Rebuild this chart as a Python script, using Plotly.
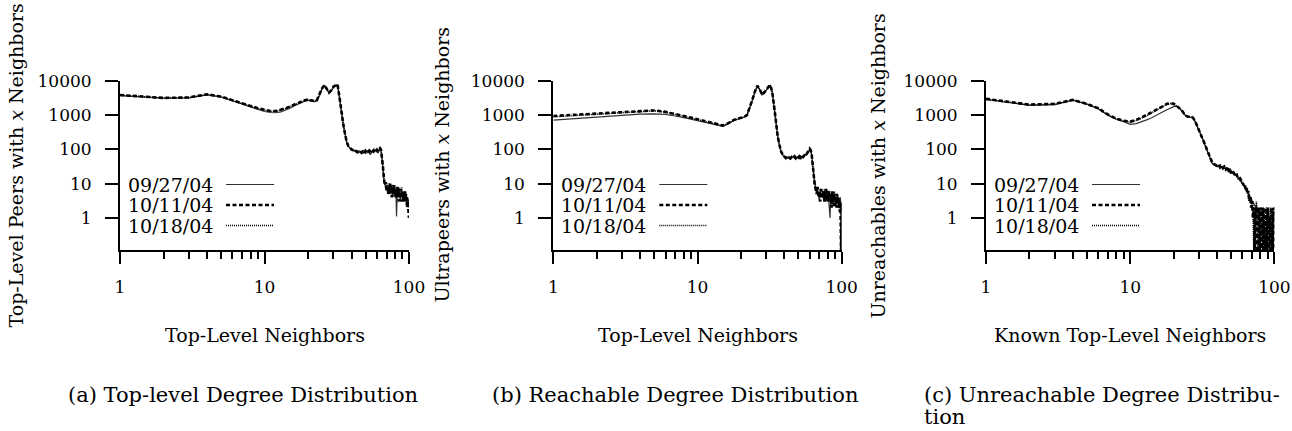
import plotly.graph_objects as go

# ---------------- data ----------------
degrees = list(range(1, 101))
dates = ["09/27/04", "10/11/04", "10/18/04"]

x_tickvals = [1, 10, 100]
x_ticktext = ["1", "10", "100"]
x_minorvals = [2, 3, 4, 5, 6, 7, 8, 9, 20, 30, 40, 50, 60, 70, 80, 90]
y_tickvals = [1, 10, 100, 1000, 10000]
y_ticktext = ["1", "10", "100", "1000", "10000"]

# (a) Top-level peers
top_0927 = [3750, 3150, 3200, 3950, 3400, 2700, 2150, 1750, 1450, 1280,
            1200, 1180, 1250, 1400, 1600, 1850, 2100, 2350, 2550, 2700,
            2650, 2500, 2600, 3700, 5900, 7300, 5600, 4500, 5200, 6500,
            7200, 7700, 3300, 1100, 560, 290, 165, 125, 108, 98,
            92, 88, 86, 90, 83, 80, 86, 82, 88, 77,
            84, 90, 79, 70, 85, 92, 80, 88, 95, 84,
            92, 100, 104, 94, 60, 30, 14, 10, 7, 9,
            6, 8, 10, 5, 7, 9, 4, 6, 8, 5,
            7, 1.1, 6, 4, 8, 5, 3, 6, 7, 4,
            5, 3, 6, 4, 5, 3, 4, 2.5, 3.5, 2.5]
top_1011 = [3900, 3200, 3300, 4100, 3500, 2800, 2250, 1870, 1600, 1420,
            1330, 1330, 1450, 1600, 1800, 2050, 2300, 2550, 2750, 2900,
            2750, 2600, 2700, 3900, 6100, 7600, 5700, 4600, 5400, 6800,
            7400, 8000, 3500, 1150, 580, 300, 170, 128, 110, 100,
            95, 85, 90, 82, 88, 92, 80, 87, 76, 90,
            80, 86, 93, 84, 78, 88, 95, 82, 90, 98,
            88, 96, 108, 98, 65, 32, 15, 9, 11, 6,
            8, 5, 7, 10, 6, 4, 8, 9, 5, 7,
            4, 6, 8, 5, 3, 7, 6, 4, 3, 6,
            4, 5, 3, 6, 3, 4, 2, 3, 1.5, 1.0]
top_1018 = [3850, 3180, 3280, 4050, 3450, 2750, 2200, 1830, 1560, 1380,
            1300, 1300, 1420, 1570, 1770, 2000, 2250, 2500, 2700, 2850,
            2700, 2550, 2650, 3850, 6000, 7500, 5650, 4550, 5300, 6700,
            7300, 7900, 3400, 1120, 570, 295, 168, 126, 109, 99,
            90, 93, 84, 88, 91, 83, 89, 79, 85, 92,
            88, 78, 85, 91, 82, 79, 90, 86, 92, 90,
            96, 92, 100, 102, 62, 28, 13, 11, 8, 7,
            10, 6, 5, 8, 9, 6, 5, 7, 4, 9,
            6, 5, 4, 7, 5, 6, 4, 5, 8, 3,
            6, 4, 5, 3, 4, 5, 3, 4, 2, 3]

# (b) Ultrapeers (reachable)
ultra_0927 = [720, 900, 1000, 1070, 1100, 1060, 950, 860, 770, 690,
              630, 580, 530, 490, 470, 540, 640, 710, 760, 800,
              870, 980, 1550, 2700, 4800, 7100, 5600, 3900, 4500, 5600,
              6500, 7400, 4500, 1700, 570, 235, 133, 85, 68, 62,
              58, 60, 55, 59, 57, 61, 56, 63, 58, 60,
              52, 64, 59, 66, 62, 70, 68, 75, 85, 100,
              95, 68, 33, 14, 10, 8, 6, 7, 5, 3,
              6, 5, 4, 6, 3, 5, 4, 6, 3, 5,
              4, 2, 1, 5, 3, 4, 6, 3, 5, 4,
              2, 3, 5, 4, 3, 2, 3, 4, 2, 2.5]
ultra_1011 = [950, 1100, 1180, 1300, 1380, 1250, 1100, 960, 850, 760,
              690, 630, 570, 520, 500, 560, 660, 740, 790, 830,
              890, 1000, 1600, 2800, 4900, 7300, 5800, 4000, 4600, 5800,
              6700, 7600, 4700, 1800, 590, 240, 136, 87, 70, 60,
              56, 62, 58, 54, 60, 57, 63, 55, 61, 58,
              63, 57, 65, 60, 67, 64, 72, 80, 92, 105,
              95, 70, 35, 15, 9, 7, 5, 8, 4, 6,
              3, 7, 5, 4, 6, 3, 5, 7, 4, 3,
              5, 6, 3, 4, 2, 6, 3, 5, 2, 4,
              3, 5, 2, 3, 4, 2, 1.5, 3, 0.1, 2]
ultra_1018 = [900, 1080, 1150, 1270, 1350, 1230, 1080, 940, 830, 740,
              670, 610, 555, 510, 490, 550, 650, 730, 780, 820,
              880, 990, 1580, 2750, 4850, 7200, 5700, 3950, 4550, 5700,
              6600, 7500, 4600, 1750, 580, 238, 135, 86, 69, 61,
              60, 57, 61, 56, 58, 63, 57, 60, 56, 62,
              58, 61, 56, 63, 65, 68, 70, 78, 88, 98,
              90, 65, 32, 14, 11, 6, 8, 5, 6, 4,
              7, 4, 6, 5, 4, 7, 3, 5, 6, 4,
              3, 5, 4, 3, 6, 2, 4, 3, 6, 3,
              4, 2, 3, 5, 2, 3, 2, 3, 1.5, 2]

# (c) Unreachables
unr_0927 = [2900, 1950, 2050, 2750, 2100, 1550, 1000, 760, 650, 540,
            570, 640, 730, 830, 950, 1100, 1280, 1450, 1620, 1780,
            1850, 1600, 1300, 1000, 900, 890, 850, 700, 510, 370,
            265, 190, 135, 96, 69, 52, 39, 35, 33, 32,
            34, 35, 31, 29, 28, 27, 25, 24, 23, 22,
            21, 20, 19, 18, 16, 15, 13, 12, 11, 10,
            9, 8, 7, 6.5, 5.8, 5, 4.5, 4, 3.5, 3.2,
            3, 2.5, 2.2, 2, 2.4, 1.8, 2, 1.6, 1.8, 1.5,
            1.3, 1.5, 1.2, 1.4, 0.1, 0.1, 0.1, 1, 1.3, 1,
            1.2, 1, 1.1, 1, 1.3, 1, 1.2, 1, 1.1, 1]
unr_1011 = [3000, 2050, 2150, 2800, 2150, 1600, 1050, 790, 690, 650,
            720, 850, 1000, 1200, 1400, 1650, 1900, 2150, 2250, 2150,
            1900, 1600, 1320, 1000, 920, 900, 880, 720, 520, 380,
            270, 195, 140, 100, 72, 55, 42, 38, 36, 33,
            36, 30, 34, 28, 31, 26, 29, 22, 27, 20,
            24, 22, 18, 21, 17, 15, 16, 13, 12, 11,
            9, 10, 7, 8, 5, 6, 3, 4, 2, 3,
            1, 2, 0.1, 2, 1, 0.1, 2, 1, 0.1, 2,
            1, 0.1, 2, 1, 0.1, 1, 2, 0.1, 1, 2,
            0.1, 1, 1, 0.1, 2, 1, 0.1, 1, 2, 0.1]
unr_1018 = [2950, 2000, 2100, 2780, 2120, 1580, 1030, 780, 680, 630,
            700, 820, 960, 1150, 1350, 1600, 1850, 2100, 2200, 2100,
            1850, 1580, 1310, 990, 910, 895, 870, 710, 515, 375,
            268, 192, 138, 98, 70, 54, 40, 37, 34, 31,
            33, 37, 30, 32, 27, 30, 24, 28, 22, 25,
            20, 23, 19, 17, 18, 14, 15, 12, 13, 10,
            10, 8, 9, 6, 7, 4, 5, 3, 4, 2,
            3, 0.1, 2, 1, 3, 1, 0.1, 2, 1, 0.1,
            2, 1, 0.1, 2, 1, 0.1, 1, 2, 0.1, 1,
            2, 0.1, 1, 2, 0.1, 1, 2, 0.1, 1, 2]

panels = [
    ("Top-Level Peers with <i>x</i> Neighbors", "Top-Level Neighbors",
     ["(a) Top-level Degree Distribution"], [top_0927, top_1011, top_1018]),
    ("Ultrapeers with <i>x</i> Neighbors", "Top-Level Neighbors",
     ["(b) Reachable Degree Distribution"], [ultra_0927, ultra_1011, ultra_1018]),
    ("Unreachables with <i>x</i> Neighbors", "Known Top-Level Neighbors",
     ["(c) Unreachable Degree Distribu-", "tion"], [unr_0927, unr_1011, unr_1018]),
]

# ---------------- styling / layout ----------------
W, H = 1292, 431
FONT = "DejaVu Serif, Liberation Serif, serif"
x_px = [(120, 409), (553.3, 841.7), (986, 1274.4)]
y_px = (81, 250)
ytitle_px = [15, 441, 877]
caption_px = [(242.5, "center"), (675, "center"), (922, "left")]

styles = [
    dict(color="#333333", width=1.2, dash="solid"),
    dict(color="black", width=2.6, dash="4px,2.5px"),
    dict(color="black", width=1.6, dash="1px,1px"),
]
draw_order = [0, 2, 1]

fig = go.Figure()
annotations = []
shapes = []
ydom = [1 - y_px[1] / H, 1 - y_px[0] / H]

for i, (ytitle, xtitle, caption, series) in enumerate(panels):
    n = i + 1
    xa = "x" if n == 1 else f"x{n}"
    ya = "y" if n == 1 else f"y{n}"
    for k in draw_order:
        fig.add_trace(go.Scatter(
            x=degrees, y=series[k], mode="lines", name=dates[k],
            line=styles[k], xaxis=xa, yaxis=ya, showlegend=False,
            hoverinfo="skip"))
    xd = [x_px[i][0] / W, x_px[i][1] / W]
    axis_common = dict(showgrid=False, zeroline=False, showline=True,
                       automargin=False,
                       linecolor="black", linewidth=2, ticks="outside",
                       tickwidth=2, tickcolor="black",
                       tickfont=dict(family=FONT, size=17, color="black"))
    fig.update_layout(**{
        ("xaxis" if n == 1 else f"xaxis{n}"): dict(
            type="log", range=[0, 2], domain=xd, anchor=ya,
            tickmode="array", tickvals=x_tickvals, ticktext=x_ticktext,
            ticklen=12, ticklabelstandoff=9,
            minor=dict(tickmode="array", tickvals=x_minorvals, ticks="outside",
                       ticklen=6.5, tickwidth=2, tickcolor="black"),
            **axis_common),
        ("yaxis" if n == 1 else f"yaxis{n}"): dict(
            type="log", range=[-0.94, 4], domain=ydom, anchor=xa,
            tickmode="array", tickvals=y_tickvals, ticktext=y_ticktext,
            ticklen=13, ticklabelstandoff=10,
            **axis_common),
    })
    # y title
    annotations.append(dict(
        text=ytitle, textangle=-90, xref="paper", yref="paper",
        x=ytitle_px[i] / W, y=1 - (sum(y_px) / 2) / H, showarrow=False,
        xanchor="center", yanchor="middle",
        font=dict(family=FONT, size=19, color="black")))
    # x title
    annotations.append(dict(
        text=xtitle, xref="paper", yref="paper",
        x=(x_px[i][0] + x_px[i][1]) / 2 / W, y=1 - 335 / H, showarrow=False,
        xanchor="center", yanchor="middle",
        font=dict(family=FONT, size=19, color="black")))
    # caption (line 1, optional continuation line)
    cx, align = caption_px[i]
    annotations.append(dict(
        text=caption[0], xref="paper", yref="paper", x=cx / W,
        y=1 - 395 / H, showarrow=False, xanchor=align, yanchor="middle",
        font=dict(family=FONT, size=21, color="black")))
    if len(caption) > 1:
        annotations.append(dict(
            text=caption[1], xref="paper", yref="paper", x=cx / W,
            y=0, showarrow=False, xanchor="left", yanchor="bottom",
            font=dict(family=FONT, size=21, color="black")))
    # legend (text left, sample right, gnuplot style)
    dom_w = x_px[i][1] - x_px[i][0]
    dom_h = y_px[1] - y_px[0]
    for k, row_y in enumerate([184.5, 205, 225.5]):
        yd = (y_px[1] - row_y) / dom_h
        annotations.append(dict(
            text=dates[k], xref=f"{xa} domain", yref=f"{ya} domain",
            x=6 / dom_w, y=yd, showarrow=False, xanchor="left",
            yanchor="middle", font=dict(family=FONT, size=19, color="black")))
        shapes.append(dict(
            type="line", xref=f"{xa} domain", yref=f"{ya} domain",
            x0=106 / dom_w, x1=154 / dom_w, y0=yd, y1=yd,
            line=dict(color=styles[k]["color"], width=styles[k]["width"],
                      dash=styles[k]["dash"])))

fig.update_layout(
    template="none",
    width=W, height=H, margin=dict(l=0, r=0, t=0, b=0, pad=0),
    paper_bgcolor="white", plot_bgcolor="white",
    annotations=annotations, shapes=shapes, showlegend=False,
    font=dict(family=FONT, color="black"),
)

fig.write_html("out.html")
